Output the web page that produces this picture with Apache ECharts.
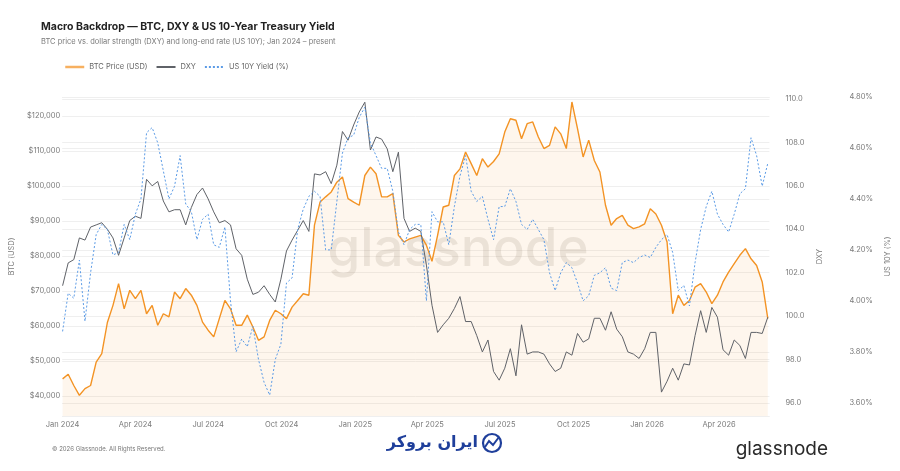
<!DOCTYPE html>
<html><head><meta charset="utf-8">
<script src="https://cdn.jsdelivr.net/npm/echarts@6/dist/echarts.min.js"></script>
<style>html,body{margin:0;padding:0;background:#fff}#c{width:900px;height:471px}</style>
</head><body><div id="c"></div>
<script>
// Weekly observations starting 2024-01-01
const startDate = [2024, 0, 1];
const stepDays = 7;

const btcPrice = [
44900,46200,43000,40200,42100,43000,49700,52100,61000,65900,
72100,64900,70200,67800,70200,63500,65900,60200,63500,62600,
69700,67800,70700,68800,65900,61100,58800,56900,62100,67300,
64900,60200,60200,63100,59700,55900,56900,61600,64500,63500,
62100,65400,67300,69200,68800,88800,95400,96900,98300,101100,
102600,96400,95400,94500,103000,105400,103500,96900,96900,97800,
85900,84000,84900,85400,85900,83100,78500,85900,94000,94500,
103000,104900,109700,106400,103000,107800,105400,107000,109200,115400,
119200,118800,113500,117800,118300,114000,110700,111600,116900,114900,
110700,124000,116400,108300,113100,107300,104000,94500,88800,90700,
91600,88800,87800,88300,89200,93500,92000,88800,84000,63500,
68800,65900,67300,71100,72100,69700,66400,68800,72600,75400,
77800,80200,82100,79200,77300,72600,62100
];

const dxy = [
101.4,102.45,102.6,103.6,103.5,104.1,104.2,104.3,104.0,103.6,
102.8,103.6,104.4,104.6,104.5,106.3,106.0,106.2,105.3,104.8,
104.9,104.9,104.2,105.0,105.6,105.9,105.4,104.8,104.3,104.4,
104.2,103.1,102.8,101.7,101.0,101.1,101.4,101.0,100.65,101.7,
103.0,103.5,103.95,104.4,103.9,106.55,106.5,106.65,106.1,106.95,
108.5,108.1,108.8,109.4,109.85,107.65,108.25,108.15,107.7,106.65,
107.55,104.5,103.9,104.05,103.9,102.35,100.5,99.25,99.6,99.9,
100.35,100.9,99.75,99.75,99.1,98.35,98.9,97.45,97.05,97.6,
98.5,97.25,99.6,98.25,98.35,98.35,98.25,97.8,97.45,97.6,
98.35,98.2,99.2,98.8,98.95,99.9,99.9,99.35,100.2,99.4,
99.05,98.35,98.25,98.05,98.5,99.25,99.25,96.5,97.0,97.6,
97.05,97.8,97.75,99.1,100.25,99.25,100.4,99.95,98.45,98.2,
98.9,98.65,98.05,99.25,99.25,99.2,99.95
];

const us10y = [
3.88,4.03,4.01,4.16,3.92,4.11,4.26,4.30,4.28,4.18,
4.19,4.30,4.24,4.34,4.40,4.66,4.68,4.62,4.51,4.40,
4.45,4.57,4.38,4.35,4.24,4.32,4.34,4.22,4.21,4.29,
4.00,3.80,3.85,3.82,3.90,3.77,3.68,3.63,3.77,3.83,
4.07,4.09,4.28,4.36,4.41,4.43,4.41,4.20,4.20,4.39,
4.58,4.64,4.65,4.72,4.76,4.62,4.57,4.52,4.52,4.43,
4.27,4.22,4.28,4.30,4.30,4.00,4.35,4.31,4.31,4.22,
4.37,4.49,4.57,4.43,4.39,4.41,4.32,4.24,4.37,4.37,
4.44,4.39,4.30,4.28,4.32,4.28,4.24,4.11,4.04,4.11,
4.15,4.13,4.07,4.00,4.02,4.10,4.11,4.13,4.05,4.04,
4.15,4.16,4.15,4.17,4.18,4.17,4.21,4.24,4.26,4.19,
4.04,4.06,3.98,4.15,4.28,4.37,4.43,4.34,4.30,4.27,
4.34,4.42,4.44,4.64,4.57,4.45,4.54
];

const xTickDates = [
[2024,0,1],[2024,3,1],[2024,6,1],[2024,9,1],
[2025,0,1],[2025,3,1],[2025,6,1],[2025,9,1],
[2026,0,1],[2026,3,1]
];
const monthNames = ['Jan','Feb','Mar','Apr','May','Jun','Jul','Aug','Sep','Oct','Nov','Dec'];

const dates = btcPrice.map((_, i) => new Date(startDate[0], startDate[1], startDate[2] + i * stepDays).getTime());
const pair = arr => arr.map((v, i) => [dates[i], v]);
const tickVals = xTickDates.map(d => new Date(d[0], d[1], d[2]).getTime());

const FONT = 'Inter, "Noto Sans", sans-serif';
const labelStyle = { fontSize: 7.5, color: '#7a7a7a', fontFamily: FONT };

const chart = echarts.init(document.getElementById('c'), null, { renderer: 'canvas' });
chart.setOption({
  animation: false,
  backgroundColor: '#ffffff',
  title: {
    text: 'Macro Backdrop — BTC, DXY & US 10-Year Treasury Yield',
    subtext: 'BTC price vs. dollar strength (DXY) and long-end rate (US 10Y); Jan 2024 – present',
    left: 36, top: 16, itemGap: 6,
    textStyle: { fontSize: 10.5, fontWeight: 'bold', color: '#222', fontFamily: FONT },
    subtextStyle: { fontSize: 7.5, color: '#7a7a7a', fontFamily: FONT }
  },
  legend: {
    left: 59, top: 58, itemWidth: 19, itemHeight: 8, itemGap: 8,
    itemStyle: { opacity: 0 },
    textStyle: { fontSize: 7.5, color: '#666', fontFamily: FONT },
    data: [
      { name: 'BTC Price (USD)', lineStyle: { width: 2.5, color: '#f7b060' } },
      { name: 'DXY' },
      { name: 'US 10Y Yield (%)' }
    ]
  },
  grid: { left: 58, right: 127, top: 97, bottom: 55 },
  xAxis: {
    type: 'value',
    min: new Date(2023, 11, 31, 12).getTime(),
    max: new Date(2026, 5, 3).getTime(),
    axisLine: { show: false },
    axisTick: { show: false },
    splitLine: { show: false },
    axisLabel: Object.assign({}, labelStyle, {
      customValues: tickVals,
      margin: 5,
      formatter: v => { const d = new Date(v); return monthNames[d.getMonth()] + ' ' + d.getFullYear(); }
    })
  },
  yAxis: [
    {
      type: 'value', position: 'left', min: 34286, max: 125429, splitNumber: 9,
      name: 'BTC (USD)', nameLocation: 'middle', nameGap: 45, nameRotate: 90,
      nameTextStyle: { fontSize: 7.5, color: '#7a7a7a', fontFamily: FONT },
      axisLine: { show: false }, axisTick: { show: false },
      splitLine: { lineStyle: { color: '#efefef', width: 1 } },
      axisLabel: Object.assign({}, labelStyle, {
        margin: 2, showMinLabel: false, showMaxLabel: false,
        formatter: v => '$' + Math.round(v).toLocaleString('en-US')
      })
    },
    {
      type: 'value', position: 'right', min: 95.4, max: 110.09, splitNumber: 7,
      name: 'DXY', nameLocation: 'middle', nameGap: 45, nameRotate: 90,
      nameTextStyle: { fontSize: 7.5, color: '#7a7a7a', fontFamily: FONT },
      axisLine: { show: false }, axisTick: { show: false },
      splitLine: { lineStyle: { color: '#efefef', width: 1 } },
      axisLabel: Object.assign({}, labelStyle, {
        margin: 16, showMinLabel: false, showMaxLabel: false,
        formatter: v => v.toFixed(1)
      })
    },
    {
      type: 'value', position: 'right', offset: 64, min: 3.548, max: 4.8, splitNumber: 6,
      name: 'US 10Y (%)', nameLocation: 'middle', nameGap: 48, nameRotate: 90,
      nameTextStyle: { fontSize: 7.5, color: '#7a7a7a', fontFamily: FONT },
      axisLine: { show: false }, axisTick: { show: false },
      splitLine: { lineStyle: { color: '#efefef', width: 1 } },
      axisLabel: Object.assign({}, labelStyle, {
        margin: 16, showMinLabel: false,
        formatter: v => v.toFixed(2) + '%'
      })
    }
  ],
  graphic: [
    { type: 'text', z: 1, silent: true,
      style: { text: 'glassnode', x: 458, y: 250, align: 'center', verticalAlign: 'middle',
               font: '500 53px Inter, sans-serif', fill: 'rgba(120,105,95,0.15)' } },
    { type: 'text', silent: true,
      style: { text: '© 2026 Glassnode. All Rights Reserved.', x: 52, y: 449, verticalAlign: 'middle',
               font: '6px Inter, sans-serif', fill: '#777' } },
    { type: 'text', silent: true,
      style: { text: 'ایران بروکر', x: 478, y: 443, align: 'right', verticalAlign: 'middle',
               font: 'bold 16px "DejaVu Sans", sans-serif', fill: '#1f3f9b' } },
    { type: 'circle', silent: true, shape: { cx: 492, cy: 443, r: 9 },
      style: { fill: 'none', stroke: '#1f3f9b', lineWidth: 2.2 } },
    { type: 'polyline', silent: true, shape: { points: [[485, 447], [489, 441], [493, 445], [499, 437]] },
      style: { fill: 'none', stroke: '#1f3f9b', lineWidth: 2 } },
    { type: 'text', silent: true,
      style: { text: 'glassnode', x: 828, y: 449, align: 'right', verticalAlign: 'middle',
               font: '19px Inter, sans-serif', fill: '#2a2a2a' } }
  ],
  series: [
    {
      name: 'BTC Price (USD)', type: 'line', yAxisIndex: 0, data: pair(btcPrice),
      showSymbol: false, symbol: 'none', z: 3,
      lineStyle: { color: '#f39324', width: 1.4 },
      itemStyle: { color: '#f39324' },
      areaStyle: { color: 'rgba(246,150,60,0.13)', origin: 'start' }
    },
    {
      name: 'DXY', type: 'line', yAxisIndex: 1, data: pair(dxy),
      showSymbol: false, symbol: 'none', z: 4,
      lineStyle: { color: '#5f6268', width: 1 },
      itemStyle: { color: '#5f6268' }
    },
    {
      name: 'US 10Y Yield (%)', type: 'line', yAxisIndex: 2, data: pair(us10y),
      showSymbol: false, symbol: 'none', z: 5,
      lineStyle: { color: '#5b9be6', width: 1, type: [2, 2] },
      itemStyle: { color: '#5b9be6' }
    }
  ]
});
</script></body></html>
